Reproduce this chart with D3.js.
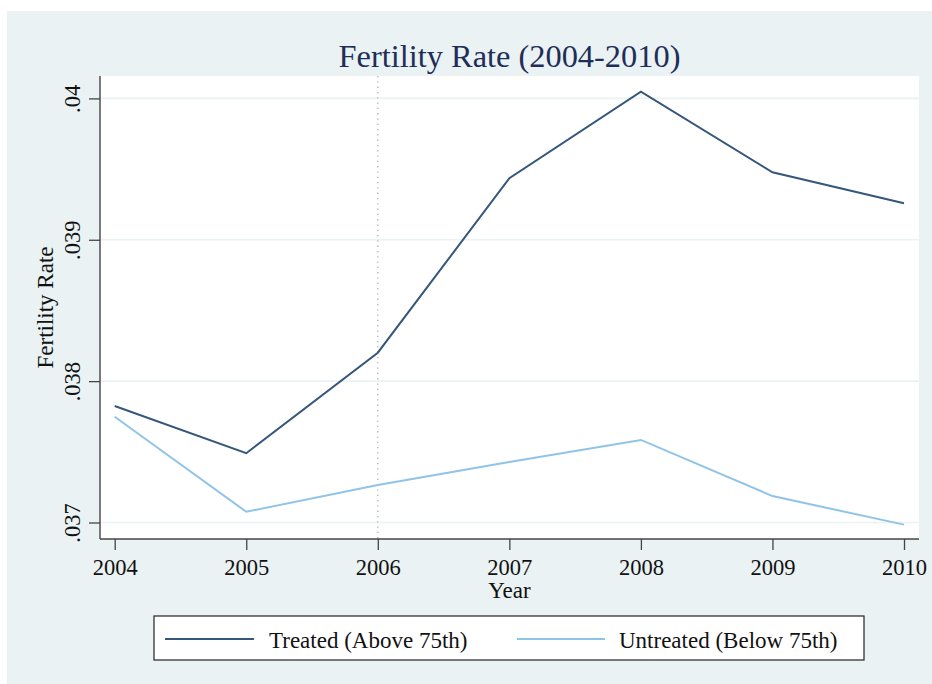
<!DOCTYPE html>
<html>
<head>
<meta charset="utf-8">
<script src="https://cdn.jsdelivr.net/npm/d3@7"></script>
<style>
  html, body { margin: 0; padding: 0; background: #ffffff; }
  svg { display: block; }
  text { font-family: "Liberation Serif", "Times New Roman", "DejaVu Serif", serif; fill: #111; }
</style>
</head>
<body>
<svg id="chart" width="932" height="684"></svg>
<script>
// ---- data ----
const years = [2004, 2005, 2006, 2007, 2008, 2009, 2010];
const treated = [0.037824, 0.037490, 0.038201, 0.039435, 0.040047, 0.039477, 0.039258];
const untreated = [0.037748, 0.037076, 0.037265, 0.037428, 0.037584, 0.037187, 0.036985];
const yTicks = [0.037, 0.038, 0.039, 0.040];
const yTickLabels = [".037", ".038", ".039", ".04"];
const seriesNames = ["Treated (Above 75th)", "Untreated (Below 75th)"];
const seriesColors = ["#35577b", "#8fc4e8"];
const markerYear = 2006;

// ---- layout ----
const svg = d3.select("#chart");
const W = 932, H = 684;
const plot = { left: 100, top: 76, right: 919, bottom: 539 };

svg.append("rect").attr("x", 7).attr("y", 11).attr("width", W - 7).attr("height", H - 11)
  .attr("fill", "#eaf2f3");
svg.append("rect").attr("x", plot.left).attr("y", plot.top)
  .attr("width", plot.right - plot.left).attr("height", plot.bottom - plot.top)
  .attr("fill", "#ffffff");

const x = d3.scaleLinear().domain([2004, 2010]).range([114.7, 904]);
const y = d3.scaleLinear().domain([0.037, 0.040]).range([522.5, 98.4]);

// gridlines
svg.append("g").selectAll("line").data(yTicks).join("line")
  .attr("x1", plot.left).attr("x2", plot.right)
  .attr("y1", d => y(d)).attr("y2", d => y(d))
  .attr("stroke", "#eaf2f3").attr("stroke-width", 1.6);

// dotted vertical reference line
svg.append("line")
  .attr("x1", x(markerYear)).attr("x2", x(markerYear))
  .attr("y1", plot.top).attr("y2", plot.bottom)
  .attr("stroke", "#a8a8a8").attr("stroke-width", 1.2)
  .attr("stroke-dasharray", "1.3,4");

// lines
const line = d3.line().x((d, i) => x(years[i])).y(d => y(d));
[treated, untreated].forEach((s, k) => {
  svg.append("path").datum(s).attr("d", line)
    .attr("fill", "none").attr("stroke", seriesColors[k])
    .attr("stroke-width", 2).attr("stroke-linejoin", "miter");
});

// y axis
const yAxis = d3.axisLeft(y).tickValues(yTicks)
  .tickFormat((d, i) => yTickLabels[i]).tickSize(11).tickPadding(0);
const gy = svg.append("g").attr("transform", `translate(${plot.left},0)`).call(yAxis);
gy.select(".domain").attr("d", `M0,${plot.top}V${plot.bottom}`)
  .attr("stroke", "#444").attr("stroke-width", 1.4);
gy.selectAll(".tick line").attr("stroke", "#444").attr("stroke-width", 1.3);
gy.selectAll(".tick text")
  .attr("x", null).attr("dy", null)
  .attr("text-anchor", "middle")
  .attr("transform", "translate(-20,0) rotate(-90)")
  .attr("font-size", 22.5).attr("fill", "#111")
  .style("font-family", '"Liberation Serif", "Times New Roman", serif');

// x axis
const xAxis = d3.axisBottom(x).tickValues(years).tickFormat(d3.format("d"))
  .tickSize(11).tickPadding(0);
const gx = svg.append("g").attr("transform", `translate(0,${plot.bottom})`).call(xAxis);
gx.select(".domain").attr("d", `M${plot.left},0H${plot.right}`)
  .attr("stroke", "#444").attr("stroke-width", 1.4);
gx.selectAll(".tick line").attr("stroke", "#444").attr("stroke-width", 1.3);
gx.selectAll(".tick text")
  .attr("y", 36).attr("dy", null)
  .attr("font-size", 22.5).attr("fill", "#111")
  .style("font-family", '"Liberation Serif", "Times New Roman", serif');

// axis titles
svg.append("text").attr("x", (plot.left + plot.right) / 2).attr("y", 598)
  .attr("text-anchor", "middle").attr("font-size", 23).text("Year");
svg.append("text")
  .attr("transform", `translate(53,${(plot.top + plot.bottom) / 2}) rotate(-90)`)
  .attr("text-anchor", "middle").attr("font-size", 23).text("Fertility Rate");

// title
svg.append("text").attr("x", 509.5).attr("y", 67)
  .attr("text-anchor", "middle").attr("font-size", 32.4)
  .style("fill", "#1e2e58").text("Fertility Rate (2004-2010)");

// legend
const lg = svg.append("g");
lg.append("rect").attr("x", 154).attr("y", 616).attr("width", 710).attr("height", 44)
  .attr("fill", "#ffffff").attr("stroke", "#222").attr("stroke-width", 1.2);
const legendItems = [
  { x1: 165, x2: 254, tx: 269 },
  { x1: 517, x2: 605, tx: 619 }
];
legendItems.forEach((it, k) => {
  lg.append("line").attr("x1", it.x1).attr("x2", it.x2).attr("y1", 639).attr("y2", 639)
    .attr("stroke", seriesColors[k]).attr("stroke-width", 2);
  lg.append("text").attr("x", it.tx).attr("y", 648).attr("font-size", 23)
    .text(seriesNames[k]);
});
</script>
</body>
</html>
